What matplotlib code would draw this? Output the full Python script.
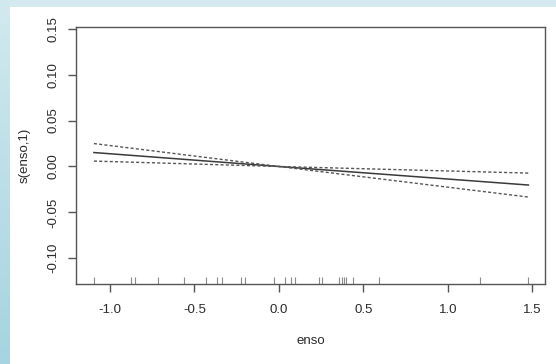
import numpy as np
import matplotlib.pyplot as plt

# observed enso values (rug along the x axis)
enso_obs = [-1.095, -0.876, -0.850, -0.714, -0.560, -0.430, -0.369, -0.337,
            -0.225, -0.203, -0.032, 0.039, 0.073, 0.095, 0.239, 0.254,
            0.355, 0.371, 0.385, 0.400, 0.436, 0.592, 1.191, 1.477]

# smooth term s(enso,1) and its +/- 2 se band
fit_x = [-1.095, 0.0, 1.477]
fit_y = [0.0152, 0.0, -0.0202]
upper_y = [0.0250, 0.0, -0.0072]
lower_y = [0.0059, 0.0, -0.0333]

x_ticks = [-1.0, -0.5, 0.0, 0.5, 1.0, 1.5]
x_tick_labels = ["-1.0", "-0.5", "0.0", "0.5", "1.0", "1.5"]
y_ticks = [-0.10, -0.05, 0.00, 0.05, 0.10, 0.15]
y_tick_labels = ["-0.10", "-0.05", "0.00", "0.05", "0.10", "0.15"]

plt.rcParams['font.family'] = ['Liberation Sans', 'DejaVu Sans']

W, H = 556, 364
fig = plt.figure(figsize=(W / 100, H / 100), dpi=100)

# light blue frame on the top and left edges
bg = np.ones((H, W, 3))
top_col = np.array([213, 233, 240]) / 255
bg[:7, :, :] = top_col
rows = np.linspace(0, 1, H)[:, None]
left_top = np.array([210, 233, 239]) / 255
left_bot = np.array([166, 212, 224]) / 255
bg[:, :10, :] = (left_top * (1 - rows) + left_bot * rows)[:, None, :]
bg_ax = fig.add_axes([0, 0, 1, 1])
bg_ax.imshow(bg, aspect='auto', interpolation='nearest')
bg_ax.axis('off')

left, right, top, bottom = 76, 545, 27, 283.5
ax = fig.add_axes([left / W, (H - bottom) / H, (right - left) / W, (bottom - top) / H])
ax.set_facecolor('none')

ax.plot(fit_x, fit_y, color='#3a3a3a', lw=1.1)
for band in (upper_y, lower_y):
    ax.plot(fit_x, band, color='#555555', lw=1.0, dashes=(2.2, 1.6))

# rug
ax.vlines(enso_obs, -0.1275, -0.1275 + 0.0075, color='#8a8a8a', lw=0.8)

ax.set_xlim(-1.201, 1.575)
ax.set_ylim(-0.1275, 0.152)
ax.set_xticks(x_ticks)
ax.set_xticklabels(x_tick_labels)
ax.set_yticks(y_ticks)
ax.set_yticklabels(y_tick_labels, rotation=90, va='center')

for s in ax.spines.values():
    s.set_color('#555555')
    s.set_linewidth(1.0)

ax.tick_params(axis='both', length=6, width=1.0, color='#555555',
               labelsize=9.5, labelcolor='#2a2a2a')
ax.tick_params(axis='x', pad=9)
ax.tick_params(axis='y', pad=6)

ax.set_xlabel("enso", fontsize=9.5, color='#2a2a2a')
ax.xaxis.set_label_coords(0.5, -0.224)
ax.xaxis.label.set_va('center')
ax.set_ylabel("s(enso,1)", fontsize=9.5, color='#2a2a2a')
ax.yaxis.set_label_coords(-0.109, 0.5)
ax.yaxis.label.set_va('center')

fig.savefig("out.png", dpi=100)
